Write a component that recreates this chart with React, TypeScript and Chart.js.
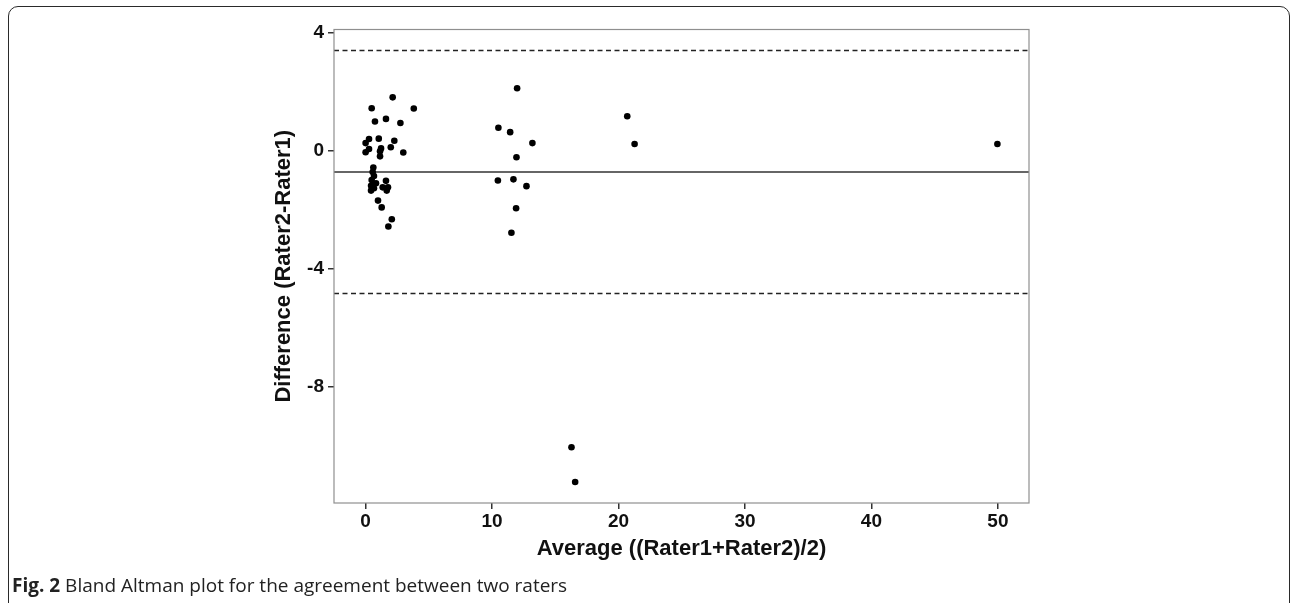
import React, { useEffect, useRef } from "react";
import { Chart, registerables } from "chart.js";

Chart.register(...registerables);

// Average ((Rater1+Rater2)/2)
const averageValues = [
  2.14, 0.48, 3.81, 0.74, 1.61, 2.75, 0.27, 1.04, 2.27, 0.0, 1.22, 1.99, 0.27, 0.0, 1.14, 1.14, 2.98,
  0.61, 0.56, 0.66, 0.48, 0.82, 0.43, 0.43, 1.61, 1.77, 1.35, 1.67, 0.66, 0.98, 1.27, 2.07, 1.8,
  11.98, 10.5, 11.43, 13.19, 11.93, 10.46, 11.69, 12.72, 11.9, 11.53,
  20.69, 21.27, 49.96, 16.28, 16.57,
];
// Difference (Rater2-Rater1)
const differenceValues = [
  1.8, 1.43, 1.42, 0.98, 1.07, 0.93, 0.39, 0.4, 0.33, 0.25, 0.07, 0.11, 0.05, -0.06, -0.03, -0.2, -0.07,
  -0.58, -0.73, -0.87, -1.0, -1.11, -1.2, -1.36, -1.03, -1.25, -1.25, -1.36, -1.28, -1.7, -1.93, -2.33, -2.58,
  2.11, 0.77, 0.62, 0.25, -0.23, -1.02, -0.98, -1.21, -1.96, -2.79,
  1.16, 0.22, 0.22, -10.06, -11.24,
];
const meanDifference = -0.73;
const upperLimit = 3.39;
const lowerLimit = -4.85;
const xTicks = [0, 10, 20, 30, 40, 50];
const yTicks = [-8, -4, 0, 4];
const xLimits = [-2.5, 52.46];
const yLimits = [-11.95, 4.1];

const xTitle = "Average ((Rater1+Rater2)/2)";
const yTitle = "Difference (Rater2-Rater1)";

const W = 1292;
const H = 603;

export default function App() {
  const ref = useRef<HTMLCanvasElement | null>(null);

  useEffect(() => {
    document.body.style.margin = "0";
    const canvas = ref.current;
    if (!canvas) return;

    const points = averageValues.map((x, i) => ({ x, y: differenceValues[i] }));
    const hline = (y: number) => [
      { x: xLimits[0], y },
      { x: xLimits[1], y },
    ];

    const borderPlugin = {
      id: "panelBorder",
      afterDraw(chart: any) {
        const { ctx, chartArea } = chart;
        ctx.save();
        ctx.strokeStyle = "#8f8f8f";
        ctx.lineWidth = 1.2;
        ctx.strokeRect(chartArea.left, chartArea.top, chartArea.right - chartArea.left, chartArea.bottom - chartArea.top);
        ctx.restore();
      },
    };

    const tickFont = { family: "'Liberation Sans', Arial, sans-serif", size: 19, weight: "bold" as const };
    const titleFont = { family: "'Liberation Sans', Arial, sans-serif", size: 22, weight: "bold" as const };

    const chart = new Chart(canvas, {
      type: "scatter",
      data: {
        datasets: [
          {
            data: points,
            backgroundColor: "#000",
            borderWidth: 0,
            pointRadius: 3.3,
            pointHoverRadius: 3.3,
          },
          {
            data: hline(meanDifference),
            showLine: true,
            borderColor: "#333",
            borderWidth: 1.5,
            pointRadius: 0,
          } as any,
          {
            data: hline(upperLimit),
            showLine: true,
            borderColor: "#222",
            borderWidth: 1.5,
            borderDash: [5, 3.5],
            pointRadius: 0,
          } as any,
          {
            data: hline(lowerLimit),
            showLine: true,
            borderColor: "#222",
            borderWidth: 1.5,
            borderDash: [5, 3.5],
            pointRadius: 0,
          } as any,
        ],
      },
      options: {
        responsive: false,
        animation: false,
        events: [],
        layout: { padding: { top: 29.5, right: 263, bottom: 41, left: 271 } },
        plugins: { legend: { display: false }, tooltip: { enabled: false } },
        scales: {
          x: {
            type: "linear",
            min: xLimits[0],
            max: xLimits[1],
            afterBuildTicks: (s: any) => {
              s.ticks = xTicks.map((v) => ({ value: v }));
            },
            afterFit: (s: any) => {
              s.height = 59;
            },
            border: { display: false },
            grid: { drawOnChartArea: false, drawTicks: true, tickLength: 6, color: "#333", lineWidth: 1.5 },
            ticks: { font: tickFont, color: "#111", padding: 1, maxRotation: 0 },
            title: { display: true, text: xTitle, font: titleFont, color: "#111", padding: 0 },
          },
          y: {
            type: "linear",
            min: yLimits[0],
            max: yLimits[1],
            afterBuildTicks: (s: any) => {
              s.ticks = yTicks.map((v) => ({ value: v }));
            },
            afterFit: (s: any) => {
              s.width = 63;
            },
            border: { display: false },
            grid: { drawOnChartArea: false, drawTicks: true, tickLength: 6, color: "#333", lineWidth: 1.5 },
            ticks: { font: tickFont, color: "#111", padding: 4 },
            title: { display: true, text: yTitle, font: titleFont, color: "#111", padding: 0 },
          },
        },
      },
      plugins: [borderPlugin],
    });

    return () => chart.destroy();
  }, []);

  return (
    <div style={{ position: "relative", width: W, height: H, overflow: "hidden", background: "#fff" }}>
      <div
        style={{
          position: "absolute",
          left: 8,
          top: 6,
          width: 1282,
          height: 700,
          border: "1.5px solid #2a2a2a",
          borderRadius: 10,
          boxSizing: "border-box",
        }}
      />
      <canvas ref={ref} width={W} height={H} style={{ position: "absolute", left: 0, top: 0, width: W, height: H }} />
      <div
        style={{
          position: "absolute",
          left: 12,
          top: 573,
          fontFamily: "'Open Sans', sans-serif",
          fontSize: 19,
          color: "#222",
          whiteSpace: "nowrap",
          lineHeight: "24px",
        }}
      >
        <span style={{ fontWeight: "bold" }}>Fig. 2</span> Bland Altman plot for the agreement between two raters
      </div>
    </div>
  );
}
